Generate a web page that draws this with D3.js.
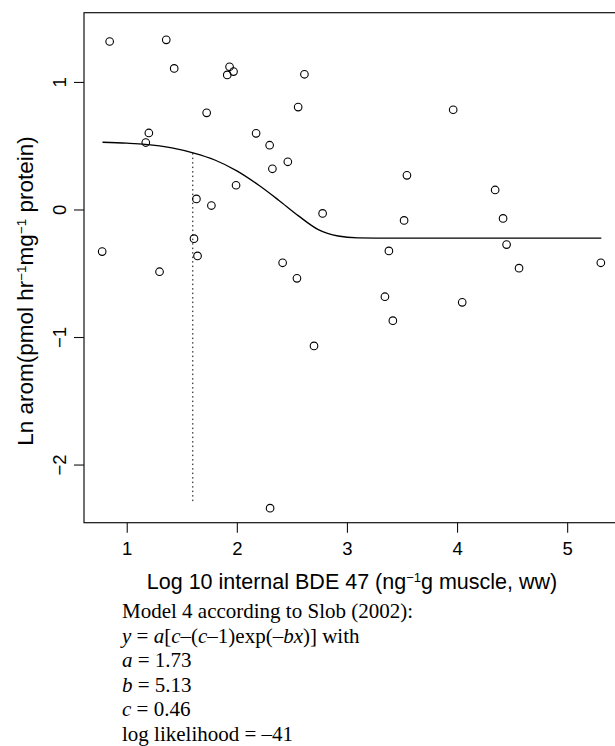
<!DOCTYPE html>
<html>
<head>
<meta charset="utf-8">
<script src="https://cdn.jsdelivr.net/npm/d3@7"></script>
<style>
  body { margin: 0; background: #fff; }
  svg { display: block; }
</style>
</head>
<body>
<div id="chart"></div>
<script>
// log10 internal BDE 47 (x) and ln aromatase activity (y)
const pointX = [0.845, 1.359, 1.431, 1.934, 1.970, 1.913, 2.614, 1.726, 2.557, 3.965,
  1.201, 1.173, 2.175, 2.298, 2.463, 2.323, 3.545, 1.993, 4.346, 1.633,
  1.769, 2.779, 3.519, 4.418, 1.611, 0.777, 3.381, 4.450, 1.643, 1.298,
  2.416, 4.563, 5.306, 2.546, 3.345, 4.047, 3.417, 2.701, 2.302];
const pointY = [1.317, 1.330, 1.106, 1.119, 1.081, 1.055, 1.060, 0.758, 0.803, 0.782,
  0.600, 0.525, 0.597, 0.504, 0.374, 0.319, 0.268, 0.190, 0.153, 0.083,
  0.031, -0.031, -0.086, -0.070, -0.229, -0.330, -0.325, -0.275, -0.364, -0.488,
  -0.418, -0.460, -0.418, -0.540, -0.684, -0.728, -0.872, -1.070, -2.342];

// fitted curve
const curveX = [0.78, 1.00, 1.17, 1.41, 1.61, 1.80, 2.00, 2.20, 2.38, 2.56, 2.74, 2.92, 3.10, 3.42, 4.00, 5.31];
const curveY = [0.527, 0.520, 0.511, 0.483, 0.442, 0.388, 0.303, 0.190, 0.073, -0.050, -0.158, -0.208, -0.222, -0.225, -0.225, -0.225];

// dotted reference line (critical effect dose)
const refX = 1.60;
const refTop = 0.442;
const refBottom = -2.31;

const xTicks = [1, 2, 3, 4, 5];
const yTicks = [-2, -1, 0, 1];

const captionLines = [
  [{ t: "Model 4 according to Slob (2002):" }],
  [{ t: "y", i: true }, { t: " = " }, { t: "a", i: true }, { t: "[" }, { t: "c", i: true }, { t: "–(" },
   { t: "c", i: true }, { t: "–1)exp(–" }, { t: "bx", i: true }, { t: ")] with" }],
  [{ t: "a", i: true }, { t: " = 1.73" }],
  [{ t: "b", i: true }, { t: " = 5.13" }],
  [{ t: "c", i: true }, { t: " = 0.46" }],
  [{ t: "log likelihood = –41" }]
];

const W = 615, H = 746;
const plot = { left: 84, right: 620, top: 12.7, bottom: 522.7 };

const svg = d3.select("#chart")
  .append("svg")
  .attr("width", W)
  .attr("height", H)
  .style("font-family", "'Liberation Sans', Arial, sans-serif");

const x = d3.scaleLinear().domain([0.612, 5.48]).range([plot.left, plot.right]);
const y = d3.scaleLinear().domain([-2.456, 1.543]).range([plot.bottom, plot.top]);

// box round the plot
svg.append("rect")
  .attr("x", plot.left)
  .attr("y", plot.top)
  .attr("width", plot.right - plot.left)
  .attr("height", plot.bottom - plot.top)
  .attr("fill", "none")
  .attr("stroke", "#111")
  .attr("stroke-width", 1.2);

// x axis
const xAxis = svg.append("g")
  .attr("transform", `translate(0, ${plot.bottom})`)
  .call(d3.axisBottom(x).tickValues(xTicks).tickSize(10).tickPadding(9).tickFormat(d3.format("d")));
xAxis.select(".domain").remove();
xAxis.selectAll("line").attr("stroke", "#111").attr("stroke-width", 1.1);
xAxis.selectAll("text")
  .attr("fill", "#000")
  .style("font-size", "18.5px")
  .style("font-family", "'Liberation Sans', Arial, sans-serif");

// y axis, labels parallel to the axis like R
const yAxis = svg.append("g")
  .attr("transform", `translate(${plot.left}, 0)`)
  .call(d3.axisLeft(y).tickValues(yTicks).tickSize(10).tickFormat((d) => d < 0 ? "\u2212" + Math.abs(d) : d));
yAxis.select(".domain").remove();
yAxis.selectAll("line").attr("stroke", "#111").attr("stroke-width", 1.1);
yAxis.selectAll("text")
  .attr("fill", "#000")
  .attr("x", null)
  .attr("dy", null)
  .attr("text-anchor", "middle")
  .attr("transform", (d) => `translate(-18, 0) rotate(-90)`)
  .style("font-size", "18.5px")
  .style("font-family", "'Liberation Sans', Arial, sans-serif");

// fitted curve
svg.append("path")
  .datum(curveX.map((d, i) => [d, curveY[i]]))
  .attr("fill", "none")
  .attr("stroke", "#000")
  .attr("stroke-width", 1.3)
  .attr("d", d3.line().x((d) => x(d[0])).y((d) => y(d[1])).curve(d3.curveMonotoneX));

// dotted vertical line
svg.append("line")
  .attr("x1", x(refX))
  .attr("x2", x(refX))
  .attr("y1", y(refTop))
  .attr("y2", y(refBottom))
  .attr("stroke", "#000")
  .attr("stroke-width", 1)
  .attr("stroke-dasharray", "1.5,3");

// open circles
svg.append("g")
  .selectAll("circle")
  .data(pointX.map((d, i) => [d, pointY[i]]))
  .join("circle")
  .attr("cx", (d) => x(d[0]))
  .attr("cy", (d) => y(d[1]))
  .attr("r", 3.8)
  .attr("fill", "none")
  .attr("stroke", "#000")
  .attr("stroke-width", 1.1);

// axis titles
const xTitle = svg.append("text")
  .attr("x", (plot.left + plot.right) / 2)
  .attr("y", 589)
  .attr("text-anchor", "middle")
  .style("font-size", "21.5px");
xTitle.append("tspan").text("Log 10 internal BDE 47 (ng");
xTitle.append("tspan").attr("dy", -7).style("font-size", "13px").text("\u22121");
xTitle.append("tspan").attr("dy", 7).text("g muscle, ww)");

const yTitle = svg.append("text")
  .attr("transform", `translate(33, 291) rotate(-90)`)
  .attr("text-anchor", "middle")
  .style("font-size", "22.5px");
yTitle.append("tspan").text("Ln arom(pmol hr");
yTitle.append("tspan").attr("dy", -7).style("font-size", "13.5px").text("\u22121");
yTitle.append("tspan").attr("dy", 7).text("mg");
yTitle.append("tspan").attr("dy", -7).style("font-size", "13.5px").text("\u22121");
yTitle.append("tspan").attr("dy", 7).text("  protein)");

// model caption below the chart
const caption = svg.append("g")
  .style("font-family", "'Liberation Serif', 'Times New Roman', serif")
  .style("font-size", "21px");
captionLines.forEach((line, i) => {
  const t = caption.append("text")
    .attr("x", 122)
    .attr("y", 618 + i * 24.6)
    .attr("xml:space", "preserve");
  line.forEach((part) => {
    t.append("tspan")
      .style("font-style", part.i ? "italic" : "normal")
      .text(part.t);
  });
});
</script>
</body>
</html>
